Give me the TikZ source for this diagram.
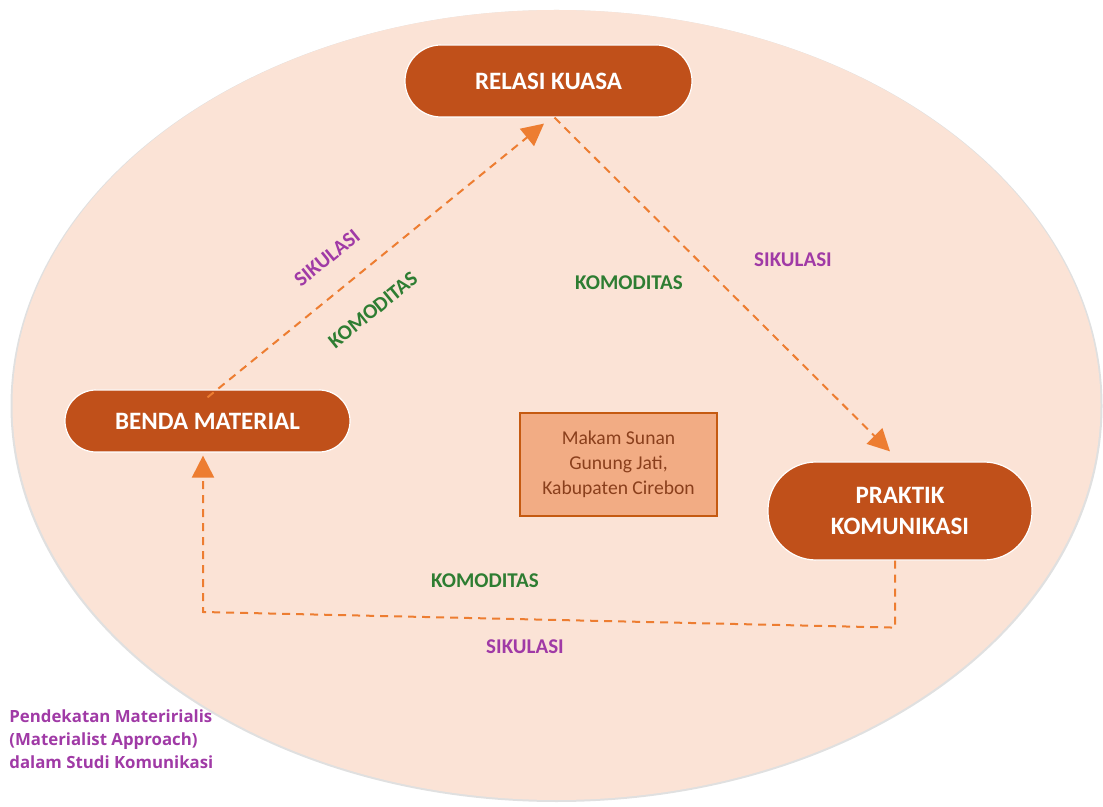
\documentclass[tikz,border=0pt]{standalone}
\usepackage{fontspec}
\setmainfont{Carlito}
\newfontfamily\notefont{Open Sans}
\usetikzlibrary{arrows.meta}
\definecolor{bgpeach}{HTML}{FBE3D6}
\definecolor{boxrust}{HTML}{C0501A}
\definecolor{flowor}{HTML}{ED7D31}
\definecolor{makamfill}{HTML}{F2AC84}
\definecolor{makamline}{HTML}{C55A11}
\definecolor{makamtext}{HTML}{8A3F1C}
\definecolor{komgreen}{HTML}{2E7D32}
\definecolor{sikpurple}{HTML}{A03AA6}
\begin{document}
\begin{tikzpicture}[x=0.5pt,y=-0.5pt,
  pill/.style={fill=boxrust,draw=white,line width=0.6pt,text=white,font=\fontsize{12.5}{15.5}\selectfont\bfseries,align=center},
  flow/.style={draw=flowor,line width=1pt,dash pattern=on 4pt off 3pt,-{Triangle[length=11pt,width=11pt]}},
  kom/.style={text=komgreen,inner sep=0.5pt,font=\fontsize{10.5}{12}\selectfont\bfseries},
  sik/.style={text=sikpurple,inner sep=0.5pt,font=\fontsize{10.5}{12}\selectfont\bfseries}]
\useasboundingbox (0,0) rectangle (1103,807);
\fill[black!12] (556.5,406) ellipse (273pt and 198pt);
\fill[bgpeach] (556.5,405) ellipse (272pt and 197.5pt);
\node[pill,minimum width=143.5pt,minimum height=36pt,rounded corners=18pt] (kuasa) at (548.5,81) {RELASI KUASA};
\node[pill,minimum width=142.5pt,minimum height=31pt,rounded corners=15.5pt] (benda) at (207.5,421) {BENDA MATERIAL};
\node[pill,minimum width=132pt,minimum height=49pt,rounded corners=24pt] (praktik) at (900,511) {PRAKTIK\\KOMUNIKASI};
\node[fill=makamfill,draw=makamline,line width=0.8pt,minimum width=98.5pt,minimum height=51.5pt,text=makamtext,align=center,font=\fontsize{9.8}{12.5}\selectfont] (makam) at (618.5,464.5) {Makam Sunan\\Gunung Jati,\\Kabupaten Cirebon};
\coordinate (sudut) at (203,612);
\draw[flow] ([yshift=-4pt]benda.north) -- ([xshift=-2.25pt,yshift=-3pt]kuasa.south);
\draw[flow] ([xshift=3pt]kuasa.south) -- ([xshift=-5pt,yshift=5pt]praktik.north);
\draw[flow] ([xshift=-2.5pt]praktik.south) -- ++(0,67) -- (sudut) -- ([xshift=-2.25pt,yshift=-1.5pt]benda.south);
\node[sik,rotate=39] (sik1) at (327,258) {SIKULASI};
\node[kom,rotate=39] (kom1) at (373,310) {KOMODITAS};
\node[kom] (kom2) at (629,283) {KOMODITAS};
\node[sik] (sik2) at (793,260) {SIKULASI};
\node[kom] (kom3) at (485,581) {KOMODITAS};
\node[sik] (sik3) at (525,647) {SIKULASI};
\node[text=sikpurple,anchor=west,align=left,inner sep=0pt,font=\notefont\fontsize{8.4}{11.5}\selectfont\bfseries] (judul) at (9,739) {Pendekatan Materirialis\\(Materialist Approach)\\dalam Studi Komunikasi};
\end{tikzpicture}
\end{document}
